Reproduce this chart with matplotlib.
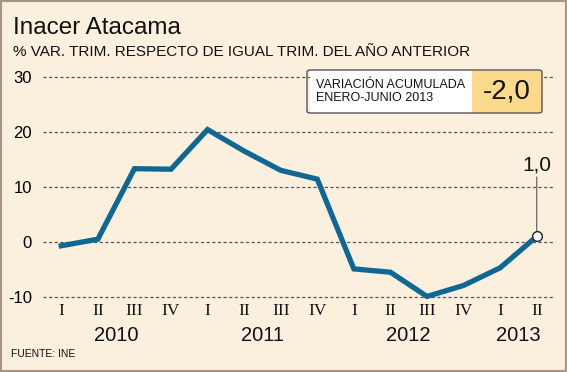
import matplotlib.pyplot as plt
from matplotlib.patches import FancyBboxPatch, Rectangle

# Data
quarters = ['I', 'II', 'III', 'IV'] * 3 + ['I', 'II']
years = ['2010', '2011', '2012', '2013']
year_pos = [1.5, 5.5, 9.5, 12.5]
values = [-0.7, 0.5, 13.3, 13.2, 20.4, 16.5, 13.0, 11.4, -4.9, -5.5, -9.9, -7.9, -4.7, 1.0]
yticks = [30, 20, 10, 0, -10]
last_label = '1,0'
acum_label = 'VARIACIÓN ACUMULADA\nENERO-JUNIO 2013'
acum_value = '-2,0'

W, H = 567, 372
BG = '#FBEFDE'
BLUE = '#0E6893'
SANS = ['Liberation Sans', 'DejaVu Sans']
SERIF = ['Liberation Serif', 'DejaVu Serif']


def fx(x):
    return x / W


def fy(y):
    return 1 - y / H


fig = plt.figure(figsize=(W / 100, H / 100), dpi=100, facecolor=BG)

# outer frame
fig.patches.append(Rectangle((0, 0), 1, 1, transform=fig.transFigure,
                             facecolor='none', edgecolor='#A79686', lw=3))

ax = fig.add_axes([fx(43), fy(297), fx(555) - fx(43), fy(76.7) - fy(297)])
ax.set_facecolor('none')
ax.set_xlim(-0.5, 13.5)
ax.set_ylim(-10, 30)
for s in ax.spines.values():
    s.set_visible(False)

for v in yticks:
    ax.axhline(v, color='#555555', lw=0.9, ls=(0, (2.5, 2)), zorder=1, clip_on=False)

x = list(range(len(values)))
ax.plot(x, values, color=BLUE, lw=3.8, solid_joinstyle='miter', zorder=3, clip_on=False)
ax.plot(x[-1], values[-1], 'o', ms=7, mfc='white', mec='#222222', mew=1.0, zorder=4, clip_on=False)
ax.annotate(last_label, xy=(x[-1], values[-1]), xytext=(x[-1], 12.3),
            ha='center', va='bottom', fontsize=15, family=SANS, color='#111111',
            arrowprops=dict(arrowstyle='-', color='#666666', lw=0.9, shrinkA=0, shrinkB=4))

ax.set_yticks(yticks)
ax.set_yticklabels([str(v) for v in yticks], family=SANS, fontsize=12)
ax.tick_params(axis='y', length=0, pad=8)
ax.set_xticks([])

btf = ax.get_xaxis_transform()
for i, q in enumerate(quarters):
    ax.text(i, -0.065, q, transform=btf, ha='center', va='center',
            family=SERIF, fontsize=12.5, color='#111111')
for p, yr in zip(year_pos, years):
    ax.text(p, -0.175, yr, transform=btf, ha='center', va='center',
            family=SANS, fontsize=14.5, color='#111111')

# titles
fig.text(fx(13), fy(28), 'Inacer Atacama', family=SANS, fontsize=17.5,
         va='center', ha='left', color='#111111')
fig.text(fx(13), fy(52), '% VAR. TRIM. RESPECTO DE IGUAL TRIM. DEL AÑO ANTERIOR',
         family=SANS, fontsize=11, va='center', ha='left', color='#111111')
fig.text(fx(11), fy(354), 'FUENTE: INE', family=SANS, fontsize=7.5,
         va='center', ha='left', color='#111111')

# accumulated variation box
bx0, bx1, bsplit, by0, by1 = 307, 542, 472, 70, 113
fig.patches.append(FancyBboxPatch((fx(bsplit), fy(by1)), fx(bx1) - fx(bsplit), fy(by0) - fy(by1),
                                  boxstyle='round,pad=0,rounding_size=0.006',
                                  transform=fig.transFigure, facecolor='#FDD98C',
                                  edgecolor='none', zorder=5))
fig.patches.append(Rectangle((fx(bx0 + 3), fy(by1)), fx(bsplit) - fx(bx0 + 3), fy(by0) - fy(by1),
                             transform=fig.transFigure, facecolor='white', edgecolor='none', zorder=5))
fig.patches.append(FancyBboxPatch((fx(bx0), fy(by1)), fx(bx1) - fx(bx0), fy(by0) - fy(by1),
                                  boxstyle='round,pad=0,rounding_size=0.006',
                                  transform=fig.transFigure, facecolor='none',
                                  edgecolor='#555555', lw=1.0, zorder=6))
fig.text(fx(316), fy(91.5), acum_label, family=SANS, fontsize=9, linespacing=1.05,
         va='center', ha='left', color='#111111', zorder=7)
fig.text(fx(507), fy(91), acum_value, family=SANS, fontsize=20,
         va='center', ha='center', color='#111111', zorder=7)

fig.savefig('out.png', dpi=100, facecolor=BG)
